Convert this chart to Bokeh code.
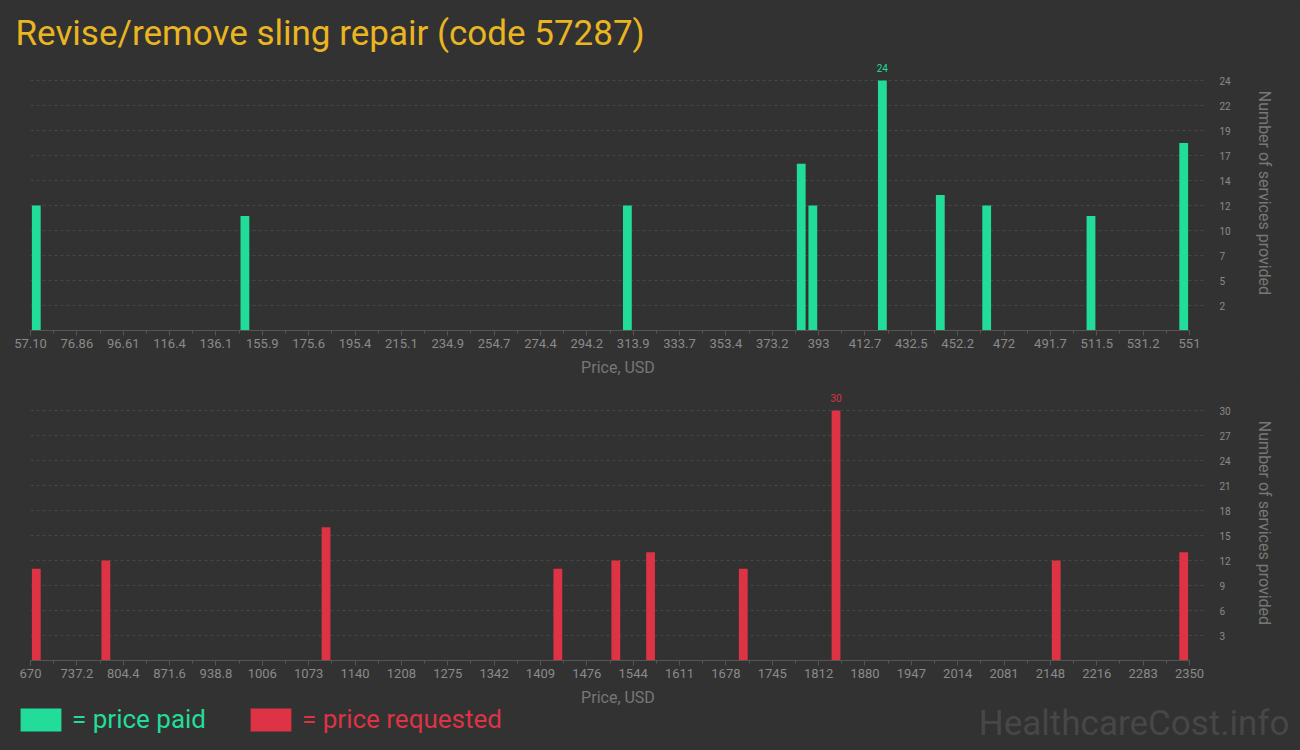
import numpy as np
from bokeh.plotting import figure
from bokeh.layouts import column
from bokeh.models import FixedTicker, Legend, LegendItem, Label, Range1d
from bokeh.embed import file_html
from bokeh.resources import INLINE
from bokeh.core.properties import value

# ---------------- data ----------------
TITLE = "Revise/remove sling repair (code 57287)"
X_TITLE = "Price, USD"
Y_TITLE = "Number of services provided"
WATERMARK = "HealthcareCost.info"
legend_labels = ["= price paid", "= price requested"]

paid_prices = [59.57, 148.47, 311.46, 385.54, 390.48, 420.12, 444.81, 464.57, 509.02, 548.53]
paid_counts = [12, 11, 12, 16, 12, 24, 13, 12, 11, 18]
paid_price_range = [57.10, 551.0]
paid_x_tick_labels = ["57.10", "76.86", "96.61", "116.4", "136.1", "155.9", "175.6", "195.4",
                      "215.1", "234.9", "254.7", "274.4", "294.2", "313.9", "333.7", "353.4",
                      "373.2", "393", "412.7", "432.5", "452.2", "472", "491.7", "511.5",
                      "531.2", "551"]
paid_y_tick_labels = ["2", "5", "7", "10", "12", "14", "17", "19", "22", "24"]

requested_prices = [678.4, 779.2, 1098.4, 1434.4, 1518.4, 1568.8, 1703.2, 1837.6, 2156.8, 2341.6]
requested_counts = [11, 12, 16, 11, 12, 13, 11, 30, 12, 13]
requested_price_range = [670.0, 2350.0]
requested_x_tick_labels = ["670", "737.2", "804.4", "871.6", "938.8", "1006", "1073", "1140",
                           "1208", "1275", "1342", "1409", "1476", "1544", "1611", "1678",
                           "1745", "1812", "1880", "1947", "2014", "2081", "2148", "2216",
                           "2283", "2350"]
requested_y_tick_labels = ["3", "6", "9", "12", "15", "18", "21", "24", "27", "30"]

# ---------------- style ----------------
BG = "#323232"
PAID = "#22dd99"
REQ = "#dd3344"
TITLE_C = "#e9b520"
TXT = "#8a8a8a"
AXT = "#777777"
GRID = "#474747"
FONT = "Roboto"

N_BINS = 100
FRAME_W = 1175
AXIS_SPAN_PX = 1159
W = 1300


def chart(prices, counts, prange, xlabels, ylabels, color, height, btop, bbottom):
    pmin, pmax = prange
    x_end = pmin + (pmax - pmin) * FRAME_W / AXIS_SPAN_PX
    ymax = max(counts)
    p = figure(width=W, height=height, output_backend="svg", toolbar_location=None,
               x_range=Range1d(pmin, x_end), y_range=Range1d(0, ymax * 1.1),
               y_axis_location="right",
               min_border_left=30, min_border_right=W - 30 - FRAME_W,
               min_border_top=btop, min_border_bottom=bbottom,
               background_fill_color=BG, border_fill_color=BG, outline_line_color=None)
    bin_w = (pmax - pmin) / N_BINS
    r = p.vbar(x=prices, top=counts, width=bin_w * 0.76, color=color, line_color=None)

    n = len(xlabels)
    xt = list(np.linspace(pmin, pmax, n))
    xminor = list(np.linspace(pmin, pmax, 2 * n - 1))
    ax = p.xaxis[0]
    ax.ticker = FixedTicker(ticks=xt, minor_ticks=xminor)
    ax.major_label_overrides = {t: l for t, l in zip(xt, xlabels)}
    ax.bounds = (pmin, pmax)
    ax.axis_line_color = "#555555"
    ax.major_tick_line_color = "#555555"
    ax.minor_tick_line_color = "#555555"
    ax.major_tick_out = 5
    ax.major_tick_in = 0
    ax.minor_tick_out = 3
    ax.minor_tick_in = 0
    ax.major_label_standoff = 3
    ax.major_label_text_align = "left"
    ax.major_label_text_font = FONT
    ax.major_label_text_font_size = "13px"
    ax.major_label_text_color = TXT
    ax.axis_label = X_TITLE
    ax.axis_label_text_font = FONT
    ax.axis_label_text_font_size = "16px"
    ax.axis_label_text_font_style = "normal"
    ax.axis_label_text_color = AXT
    ax.axis_label_standoff = 7

    yt = [ymax / 10 * k for k in range(1, 11)]
    ay = p.yaxis[0]
    ay.ticker = FixedTicker(ticks=yt, minor_ticks=[])
    ay.major_label_overrides = {t: l for t, l in zip(yt, ylabels)}
    ay.axis_line_color = None
    ay.major_tick_line_color = None
    ay.minor_tick_line_color = None
    ay.major_label_standoff = 8
    ay.major_label_text_font = FONT
    ay.major_label_text_font_size = "10px"
    ay.major_label_text_color = TXT
    ay.axis_label = Y_TITLE
    ay.axis_label_text_font = FONT
    ay.axis_label_text_font_size = "16px"
    ay.axis_label_text_font_style = "normal"
    ay.axis_label_text_color = AXT
    ay.axis_label_standoff = 21

    p.xgrid.visible = False
    p.ygrid.grid_line_color = GRID
    p.ygrid.grid_line_dash = "3 3"

    i = int(np.argmax(counts))
    p.text(x=[prices[i]], y=[counts[i]], text=[str(counts[i])], text_align="center",
           text_baseline="bottom", y_offset=-9, text_font=value(FONT),
           text_font_size="10px", text_color=color)
    return p, r


p1, r1 = chart(paid_prices, paid_counts, paid_price_range, paid_x_tick_labels,
               paid_y_tick_labels, PAID, 383, 55, 53)
p1.title.text = TITLE
p1.title.text_font = FONT
p1.title.text_font_size = "35px"
p1.title.text_font_style = "normal"
p1.title.text_color = TITLE_C
p1.title.align = "left"
p1.title.offset = -15
p1.title.standoff = 4

p2, r2 = chart(requested_prices, requested_counts, requested_price_range,
               requested_x_tick_labels, requested_y_tick_labels, REQ, 327, 2, 50)

# legend / watermark strip: a transparent overlay over the bottom edge of the page
p3 = figure(width=W, height=60, output_backend="svg", toolbar_location=None,
            x_axis_location=None, y_axis_location=None,
            min_border_left=0, min_border_right=0, min_border_top=0, min_border_bottom=0,
            background_fill_alpha=0, border_fill_alpha=0, outline_line_color=None,
            styles={"margin-top": "-20px"})
p3.xgrid.visible = False
p3.ygrid.visible = False
k_paid = p3.vbar(x=paid_prices, top=paid_counts, width=1, color=PAID, line_color=None,
                 visible=False)
k_req = p3.vbar(x=requested_prices, top=requested_counts, width=1, color=REQ,
                line_color=None, visible=False)

for lbl, rend, col, lx in [(legend_labels[0], k_paid, PAID, 15),
                           (legend_labels[1], k_req, REQ, 245)]:
    leg = Legend(items=[LegendItem(label=lbl, renderers=[rend])], location=(lx, 16),
                 orientation="horizontal", glyph_width=51, glyph_height=29,
                 label_standoff=6, padding=0, margin=0, border_line_color=None,
                 background_fill_alpha=0, inactive_fill_alpha=0, label_text_color=col,
                 label_text_font=FONT, label_text_font_size="26px")
    p3.add_layout(leg)

wm = Label(x=1289, y=27, x_units="screen", y_units="screen", text=WATERMARK,
           text_align="right", text_baseline="alphabetic", text_font=FONT,
           text_font_size="35px", text_color="#474747")
p3.add_layout(wm)

layout = column(p1, p2, spacing=0, styles={"background-color": BG})
html = file_html([layout, p3], INLINE)
html = html.replace("</head>", "<style>html,body{background:#323232;}</style></head>", 1)
open("out.html", "w").write(html)
